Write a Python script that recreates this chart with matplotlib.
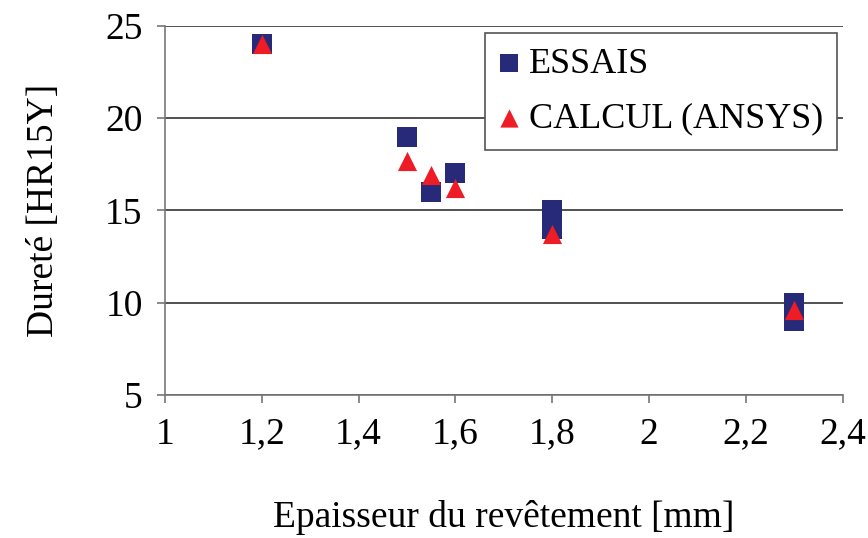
import matplotlib.pyplot as plt

# Epaisseur du revêtement [mm] vs Dureté [HR15Y]
essais_x = [1.2, 1.5, 1.55, 1.6, 1.8, 1.8, 2.3, 2.3]
essais_y = [24.0, 19.0, 16.0, 17.0, 15.0, 14.0, 10.0, 9.0]
calcul_x = [1.2, 1.5, 1.55, 1.6, 1.8, 2.3]
calcul_y = [24.0, 17.7, 16.9, 16.2, 13.7, 9.6]

x_ticks = [1, 1.2, 1.4, 1.6, 1.8, 2, 2.2, 2.4]
x_labels = ["1", "1,2", "1,4", "1,6", "1,8", "2", "2,2", "2,4"]
y_ticks = [5, 10, 15, 20, 25]

plt.rcParams["font.family"] = ["Liberation Serif", "DejaVu Serif"]

fig = plt.figure(figsize=(8.68, 5.38), dpi=100)
ax = fig.add_axes([0.19, 0.266, 0.781, 0.686])

ax.scatter(essais_x, essais_y, marker="s", s=190, color="#262a78",
           label="ESSAIS", zorder=3, linewidths=0)
ax.scatter(calcul_x, calcul_y, marker="^", s=190, color="#ee1c24",
           label="CALCUL (ANSYS)", zorder=4, linewidths=0)

ax.set_xlim(1, 2.4)
ax.set_ylim(5, 25)
ax.set_xticks(x_ticks)
ax.set_xticklabels(x_labels)
ax.set_yticks(y_ticks)
ax.yaxis.grid(True, color="#333333", linewidth=1.2)
ax.set_axisbelow(True)

for side in ["top", "right"]:
    ax.spines[side].set_visible(False)
ax.spines["left"].set_color("#777777")
ax.spines["bottom"].set_color("#777777")
ax.spines["left"].set_linewidth(1.2)
ax.spines["bottom"].set_linewidth(1.2)
ax.tick_params(axis="both", labelsize=27, direction="out", length=6,
               color="#777777", width=1.2, pad=10)

ax.set_xlabel("Epaisseur du revêtement [mm]", fontsize=27, labelpad=35)
ax.set_ylabel("Dureté [HR15Y]", fontsize=27, labelpad=32)

leg = ax.legend(loc="upper right", fontsize=26, frameon=True, fancybox=False,
                edgecolor="#555555", framealpha=1, handletextpad=0.3,
                borderaxespad=0, markerscale=0.95, scatterpoints=1,
                labelspacing=0.6, borderpad=0.4, handlelength=0.5,
                bbox_to_anchor=(0.992, 0.981))
leg.get_frame().set_linewidth(1.2)

fig.savefig("out.png", dpi=100)
